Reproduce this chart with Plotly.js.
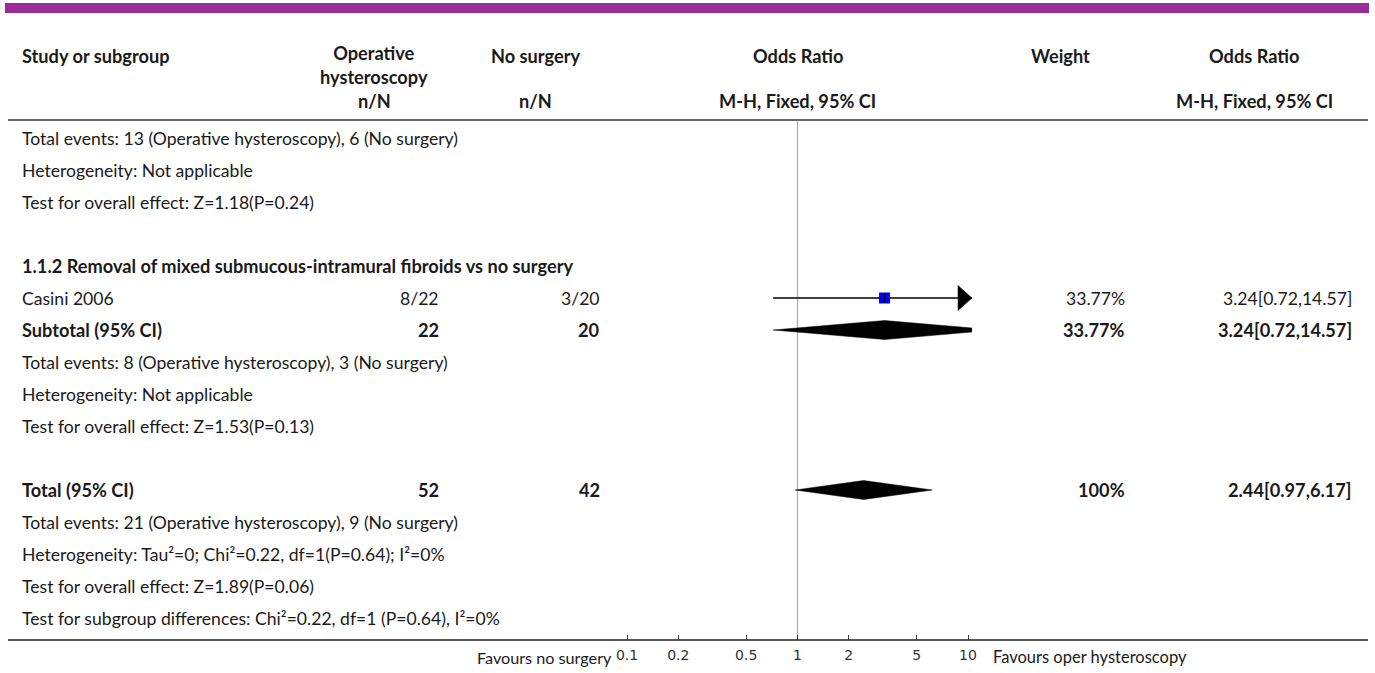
<!DOCTYPE html>
<html>
<head>
<meta charset="utf-8">
<script src="https://cdn.plot.ly/plotly-3.0.1.min.js"></script>
<style>html,body{margin:0;padding:0;background:#fff;}</style>
</head>
<body>
<div id="chart" style="width:1375px;height:673px;"></div>
<script>
// ---- Forest plot data: operative hysteroscopy vs no surgery ----
const studyNames   = ["Casini 2006"];
const operEvents   = [8];
const operTotals   = [22];
const noSurgEvents = [3];
const noSurgTotals = [20];
const studyOR      = [3.24];
const studyLow     = [0.72];
const studyHigh    = [14.57];
const studyWeight  = [33.77];

const pooledNames   = ["Subtotal (95% CI)", "Total (95% CI)"];
const pooledOper    = [22, 52];
const pooledNoSurg  = [20, 42];
const pooledOR      = [3.24, 2.44];
const pooledLow     = [0.72, 0.97];
const pooledHigh    = [14.57, 6.17];
const pooledWeight  = [33.77, 100];

const tickValues = [0.1, 0.2, 0.5, 1, 2, 5, 10];

const group1Notes = [
  "Total events: 13 (Operative hysteroscopy), 6 (No surgery)",
  "Heterogeneity: Not applicable",
  "Test for overall effect: Z=1.18(P=0.24)"
];
const subgroupTitle = "1.1.2 Removal of mixed submucous-intramural fibroids vs no surgery";
const group2Notes = [
  "Total events: 8 (Operative hysteroscopy), 3 (No surgery)",
  "Heterogeneity: Not applicable",
  "Test for overall effect: Z=1.53(P=0.13)"
];
const totalNotes = [
  "Total events: 21 (Operative hysteroscopy), 9 (No surgery)",
  "Heterogeneity: Tau²=0; Chi²=0.22, df=1(P=0.64); I²=0%",
  "Test for overall effect: Z=1.89(P=0.06)",
  "Test for subgroup differences: Chi²=0.22, df=1 (P=0.64), I²=0%"
];

// ---- Page geometry (pixels) ----
const W = 1375, H = 673;
const FONT = "Lato, 'Open Sans', sans-serif";
const FS = 17.6;        // regular text
const FS_B = 18.2;      // bold text
const TXT = "#1a1a1a";
const PX_PER_DECADE = 170.5;
const CENTER_X = 797.5;               // x position of OR = 1
const LOG_EXT = 1.0235;               // axis extends just past 0.1 and 10
const plotLeft = CENTER_X - LOG_EXT * PX_PER_DECADE;
const plotRight = CENTER_X + LOG_EXT * PX_PER_DECADE;
const axisY = 640;
const rowY = i => 138 + 32 * i;

const col = {
  left: 20,
  operHead: 374, operVal: 441,
  noHead: 535, noVal: 602,
  forest: 797.5,
  weightHead: 1060, weightVal: 1127,
  orHead: 1254, orVal: 1354
};

const fmtOR = (m, l, h) => m.toFixed(2) + "[" + l.toFixed(2) + "," + h.toFixed(2) + "]";
const fmtW = w => (w === 100 ? "100" : w.toFixed(2)) + "%";

const annotations = [];
function label(text, px, py, anchor, opts) {
  opts = opts || {};
  annotations.push({
    text: opts.bold ? "<b>" + text + "</b>" : text,
    xref: "paper", yref: "y",
    x: px / W, y: py,
    xanchor: anchor, yanchor: "middle",
    showarrow: false,
    font: {family: opts.family || FONT, size: opts.size || (opts.bold ? FS_B : FS), color: opts.color || TXT}
  });
}

// Column headers
label("Study or subgroup", col.left, 56, "left", {bold: true});
label("<b>Operative</b><br><b>hysteroscopy</b>", col.operHead, 65, "center", {size: FS_B});
label("No surgery", col.noHead, 56, "center", {bold: true});
label("Odds Ratio", col.forest, 56, "center", {bold: true});
label("Weight", col.weightHead, 56, "center", {bold: true});
label("Odds Ratio", col.orHead, 56, "center", {bold: true});
label("n/N", col.operHead, 101, "center", {bold: true});
label("n/N", col.noHead, 101, "center", {bold: true});
label("M-H, Fixed, 95% CI", col.forest, 101, "center", {bold: true});
label("M-H, Fixed, 95% CI", col.orHead, 101, "center", {bold: true});

// Rows
group1Notes.forEach((t, i) => label(t, col.left, rowY(i), "left"));
label(subgroupTitle, col.left, rowY(4), "left", {bold: true});

const studyRows = [5];
studyNames.forEach((name, i) => {
  const y = rowY(studyRows[i]);
  label(name, col.left, y, "left");
  label(operEvents[i] + "/" + operTotals[i], col.operVal, y, "right");
  label(noSurgEvents[i] + "/" + noSurgTotals[i], col.noVal, y, "right");
  label(fmtW(studyWeight[i]), col.weightVal, y, "right");
  label(fmtOR(studyOR[i], studyLow[i], studyHigh[i]), col.orVal, y, "right");
});

const pooledRows = [6, 11];
pooledNames.forEach((name, i) => {
  const y = rowY(pooledRows[i]);
  label(name, col.left, y, "left", {bold: true});
  label(String(pooledOper[i]), col.operVal, y, "right", {bold: true});
  label(String(pooledNoSurg[i]), col.noVal, y, "right", {bold: true});
  label(fmtW(pooledWeight[i]), col.weightVal, y, "right", {bold: true});
  label(fmtOR(pooledOR[i], pooledLow[i], pooledHigh[i]), col.orVal, y, "right", {bold: true});
});

group2Notes.forEach((t, i) => label(t, col.left, rowY(7 + i), "left"));
totalNotes.forEach((t, i) => label(t, col.left, rowY(12 + i), "left"));

label("Favours no surgery", 614, 657, "right", {size: 16.2});
label("Favours oper hysteroscopy", 991, 657, "left", {size: 16.5});

// ---- Traces ----
const axisMax = Math.pow(10, LOG_EXT);
const axisMin = Math.pow(10, -LOG_EXT);
const traces = [];

// line of no effect
traces.push({x: [1, 1], y: [121, axisY], mode: "lines", type: "scatter",
  line: {color: "#aaa", width: 1.2}, hoverinfo: "skip"});

studyNames.forEach((name, i) => {
  const y = rowY(studyRows[i]);
  const hi = Math.min(studyHigh[i], axisMax);
  const lo = Math.max(studyLow[i], axisMin);
  // confidence interval line
  traces.push({x: [lo, hi], y: [y, y], mode: "lines", type: "scatter",
    line: {color: "#000", width: 1.3}, hoverinfo: "skip"});
  // arrow head where the interval runs past the axis
  if (studyHigh[i] > axisMax) {
    const base = axisMax / Math.pow(10, 14 / PX_PER_DECADE);
    traces.push({x: [axisMax, base, base, axisMax], y: [y, y - 12.5, y + 12.5, y],
      mode: "lines", fill: "toself", fillcolor: "#000", line: {color: "#000", width: 0.5},
      type: "scatter", hoverinfo: "skip"});
  }
  // weighted point estimate
  traces.push({x: [studyOR[i]], y: [y], mode: "markers", type: "scatter",
    marker: {symbol: "square", size: 11, color: "#0000ff", line: {width: 0}}, hoverinfo: "skip"});
  traces.push({x: [studyOR[i]], y: [y], mode: "markers", type: "scatter",
    marker: {symbol: "line-ns", size: 7, line: {color: "#000", width: 1.2}}, hoverinfo: "skip"});
});

pooledNames.forEach((name, i) => {
  const y = rowY(pooledRows[i]);
  const h = 9.5;
  traces.push({
    x: [pooledLow[i], pooledOR[i], pooledHigh[i], pooledOR[i], pooledLow[i]],
    y: [y, y - h, y, y + h, y],
    mode: "lines", fill: "toself", fillcolor: "#000",
    line: {color: "#000", width: 0.5}, type: "scatter", hoverinfo: "skip"
  });
});

// ---- Layout ----
const layout = {
  width: W, height: H,
  margin: {l: 0, r: 0, t: 0, b: 0},
  paper_bgcolor: "#fff", plot_bgcolor: "rgba(0,0,0,0)",
  showlegend: false,
  font: {family: FONT, color: TXT},
  xaxis: {
    type: "log",
    range: [-LOG_EXT, LOG_EXT],
    domain: [plotLeft / W, plotRight / W],
    anchor: "free", position: 1 - axisY / H,
    tickmode: "array", tickvals: tickValues, ticktext: tickValues.map(String),
    ticks: "inside", ticklen: 5, tickcolor: "#333", tickwidth: 1,
    ticklabelstandoff: 5,
    tickfont: {family: "'DejaVu Sans', sans-serif", size: 14, color: "#333"},
    showgrid: false, zeroline: false, showline: false, fixedrange: true
  },
  yaxis: {
    range: [H, 0], domain: [0, 1], visible: false, fixedrange: true
  },
  shapes: [
    // top banner
    {type: "rect", xref: "paper", yref: "paper", x0: 5 / W, x1: 1369 / W,
      y0: 1 - 3 / H, y1: 1 - 13 / H, fillcolor: "#9c2a97", line: {width: 0}},
    // header rule
    {type: "line", xref: "paper", yref: "y", x0: 8 / W, x1: 1368 / W, y0: 120, y1: 120,
      line: {color: "#333", width: 1.5}},
    // bottom rule / axis line
    {type: "line", xref: "paper", yref: "y", x0: 8 / W, x1: 1368 / W, y0: axisY, y1: axisY,
      line: {color: "#222", width: 1.5}}
  ],
  annotations: annotations
};

Plotly.newPlot("chart", traces, layout, {displayModeBar: false, staticPlot: true});
</script>
</body>
</html>
